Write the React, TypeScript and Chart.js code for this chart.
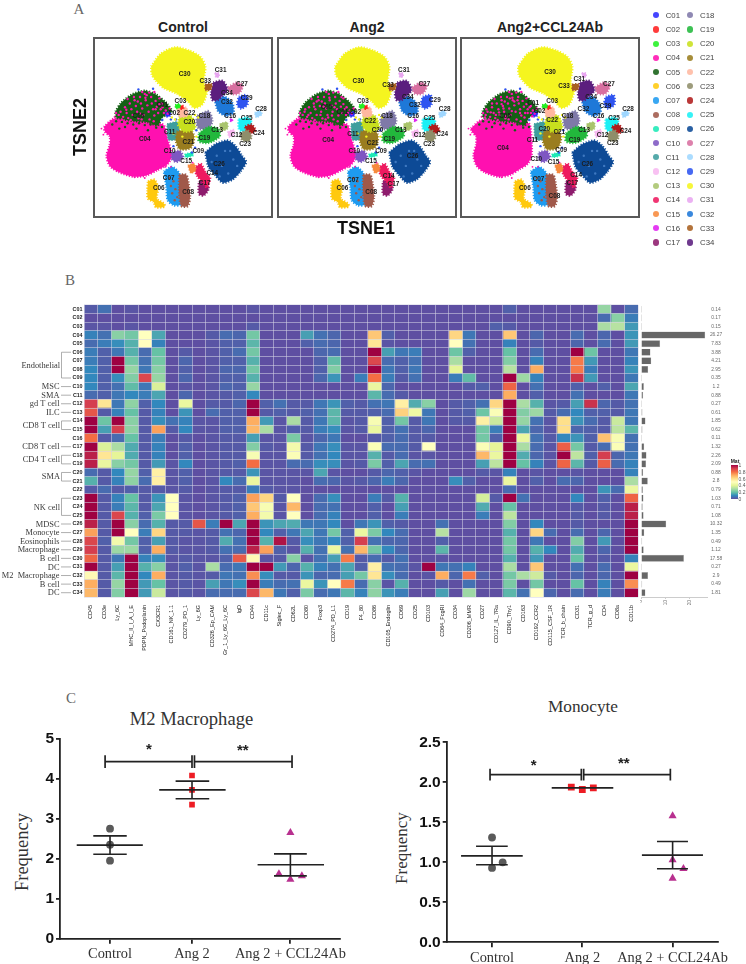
import React, { useEffect, useRef } from 'react';
import { Chart, registerables } from 'chart.js';
Chart.register(...registerables);

const SANS = '"Liberation Sans", Arial, sans-serif';
const SERIF = '"Liberation Serif", serif';

/* ---------- Panel A data ---------- */
const clusterNames = ['C01','C02','C03','C04','C05','C06','C07','C08','C09','C10','C11','C12','C13','C14','C15','C16','C17','C18','C19','C20','C21','C22','C23','C24','C25','C26','C27','C28','C29','C30','C31','C32','C33','C34'];
const clusterColors = ['#2B2BFF','#FF2020','#22F022','#FF10B0','#156015','#FFC90E','#1E9BF0','#A0594A','#1DE9B6','#7E57C2','#3E9E9E','#F7B8F0','#A9C46C','#EE1A60','#F78A3C','#E020F0','#8E1C6D','#7F79A8','#22B83C','#C8E01E','#9A7D1F','#FFB8A0','#8F8E6A','#B01C1C','#1BF0F5','#0D4A96','#D86FA0','#9FD7FF','#2E54F0','#F5F51F','#E8A6F0','#1E78D8','#A86020','#5B1E7E'];

const outlineC01 = [[215,225],[228,222],[230,235],[218,238]];
const outlineC02 = [[260,204],[270,202],[272,212],[262,214]];
const outlineC03 = [[245,200],[258,197],[262,208],[248,212]];
const outlineC04 = [[22,270],[50,245],[90,242],[140,250],[180,255],[210,265],[222,310],[235,360],[220,388],[190,405],[155,422],[115,426],[70,412],[40,392],[30,360],[40,325],[40,300],[25,285]];
const outlineC04Ab = [[22,275],[50,250],[90,245],[140,250],[180,250],[205,260],[212,310],[212,360],[200,385],[175,402],[145,420],[110,426],[65,412],[40,392],[30,360],[38,325],[38,300],[25,285]];
const outlineC05 = [[58,222],[75,195],[110,168],[150,156],[185,168],[215,192],[235,222],[205,240],[190,265],[160,255],[120,252],[80,245],[60,240]];
const outlineC06 = [[160,440],[180,435],[192,460],[188,495],[210,510],[212,520],[185,522],[178,505],[160,495],[158,470]];
const outlineC07 = [[210,410],[235,395],[258,415],[258,450],[265,490],[260,515],[240,515],[222,500],[218,460]];
const outlineC08 = [[258,420],[280,420],[288,450],[292,490],[285,518],[265,518],[258,480]];
const outlineC09 = [[275,355],[300,350],[302,360],[278,365]];
const outlineC10 = [[235,350],[260,345],[270,365],[250,380],[235,370]];
const outlineC11 = [[220,260],[255,255],[255,305],[225,310]];
const outlineC12 = [[410,285],[430,278],[430,295],[415,302]];
const outlineC13 = [[385,260],[408,255],[410,275],[390,282]];
const outlineC14 = [[305,400],[325,385],[340,410],[355,430],[345,460],[330,440],[315,425]];
const outlineC15 = [[285,390],[305,385],[310,405],[295,415]];
const outlineC16 = [[418,245],[425,245],[425,252],[418,252]];
const outlineC17 = [[320,440],[345,440],[350,465],[335,485],[320,480]];
const outlineC18 = [[315,235],[350,220],[362,250],[350,275],[320,275],[312,255]];
const outlineC19 = [[320,290],[350,270],[380,275],[385,300],[350,320],[320,315]];
const outlineC20 = [[260,235],[295,235],[308,275],[275,285],[255,265]];
const outlineC21 = [[250,285],[290,275],[305,300],[295,335],[260,340],[248,315]];
const outlineC22 = [[250,210],[280,208],[285,235],[260,238]];
const outlineC23 = [[450,290],[472,280],[485,300],[475,315],[455,310]];
const outlineC24 = [[465,268],[485,262],[498,280],[485,290],[470,285]];
const outlineC25 = [[445,245],[475,240],[485,258],[460,285],[445,275]];
const outlineC26 = [[340,350],[370,325],[410,312],[435,330],[455,360],[468,380],[450,410],[425,435],[395,445],[370,420],[350,395]];
const outlineC27 = [[412,145],[440,130],[458,140],[445,165],[420,165]];
const outlineC28 = [[495,225],[512,218],[518,230],[500,240]];
const outlineC29 = [[445,175],[470,170],[472,200],[452,212],[440,200]];
const outlineC30 = [[170,80],[200,40],[245,20],[290,30],[325,50],[340,80],[335,130],[345,160],[330,200],[305,210],[285,190],[250,165],[210,148],[185,125],[172,105]];
const outlineC31 = [[370,100],[382,100],[383,112],[373,114]];
const outlineC32 = [[370,185],[400,175],[425,195],[428,225],[405,235],[380,220]];
const outlineC33 = [[340,135],[360,135],[358,152],[340,155]];
const outlineC34 = [[365,130],[395,125],[410,155],[390,175],[380,185],[362,185],[358,160]];
const outlines = [outlineC01,outlineC02,outlineC03,outlineC04,outlineC05,outlineC06,outlineC07,outlineC08,outlineC09,outlineC10,outlineC11,outlineC12,outlineC13,outlineC14,outlineC15,outlineC16,outlineC17,outlineC18,outlineC19,outlineC20,outlineC21,outlineC22,outlineC23,outlineC24,outlineC25,outlineC26,outlineC27,outlineC28,outlineC29,outlineC30,outlineC31,outlineC32,outlineC33,outlineC34];
/* order in which the clusters overlap, back to front */
const overlapOrder = [29,3,4,25,5,6,7,16,13,14,9,8,10,17,18,20,19,21,31,33,26,28,32,24,23,22,27,12,11,30,15,0,1,2];

const controlLabels = [[205,202],[242,228],[262,190],[150,308],[130,237],[194,462],[225,432],[286,476],[318,347],[228,345],[228,286],[438,296],[377,279],[362,416],[280,377],[418,237],[338,445],[337,235],[337,305],[290,255],[287,318],[290,228],[465,323],[508,291],[470,242],[383,387],[455,136],[515,215],[470,181],[275,105],[388,93],[408,191],[340,127],[408,165]];
const ang2Labels = [[193,223],[233,223],[257,190],[148,311],[143,208],[193,463],[226,437],[283,474],[314,347],[230,345],[226,292],[435,296],[376,280],[338,423],[282,377],[415,237],[353,450],[333,235],[340,307],[303,279],[288,320],[280,251],[465,323],[506,292],[466,242],[413,361],[450,136],[514,214],[483,186],[243,127],[386,92],[420,201],[336,138],[398,175]];
const ablabels = [[217,195],[237,222],[277,190],[122,337],[129,236],[191,462],[234,435],[284,488],[305,344],[227,372],[215,313],[435,295],[377,280],[352,420],[281,381],[422,237],[340,447],[325,236],[347,313],[252,276],[299,287],[277,248],[467,321],[507,282],[471,241],[387,387],[455,135],[515,213],[444,206],[270,97],[362,119],[375,215],[314,143],[399,175]];

const pinkSpecks = [[68,232],[74,222],[82,238],[88,208],[93,226],[98,242],[103,196],[108,214],[112,232],[118,186],[122,204],[126,222],[130,243],[135,176],[138,196],[142,212],[146,232],[150,166],[153,186],[158,202],[162,222],[165,246],[170,176],[172,196],[176,214],[180,234],[184,188],[188,206],[192,226],[196,198],[200,214],[206,208],[210,226],[216,218],[178,252],[140,246],[106,248],[78,246],[152,178],[128,190],[164,162],[142,160],[196,180],[116,176],[222,228],[228,212],[60,226],[96,182],[180,160]];
const greenSpecks = [[60,252],[78,254],[96,258],[114,262],[132,258],[150,264],[168,262],[186,272],[204,270],[88,270],[124,275],[160,280],[48,262],[70,275]];
const brownSpecks = [[240,440],[246,465],[236,478],[252,490],[228,430],[244,500],[232,455]];
const paleBlueSpecks = [[376,360],[402,345],[428,372],[392,392],[412,416],[360,380],[440,392],[418,345],[385,425]];
const strayYellowSpecks = [[308,232],[318,240],[300,248],[245,246],[268,300],[235,240],[312,300],[240,290]];
const strayBlueSpecks = [[205,248],[232,246],[248,246],[308,335],[312,280],[240,330],[130,152],[298,350],[176,150]];
const strayPinkSpecks = [[14,275],[20,294],[300,382],[232,395],[55,238],[118,428],[215,395],[150,430]];

/* ---------- Panel B data ---------- */
const markerNames = ['CD45','CD3e','Ly_6C','MHC_II_I_A_I_E','PDPN_Podoplanin','CX3CR1','CD161_NK_1.1','CD279_PD_1','Ly_6G','CD326_Ep_CAM','Gr_1_Ly_6G_Ly_6C','IgD','CD44','CD11c','Siglec_F','CD62L','CD80','Foxp3','CD274_PD_L1','CD19','F4_80','CD86','CD105_Endoglin','CD69','CD25','CD103','CD64_FcgRI','CD34','CD206_MMR','CD27','CD127_IL_7Ra','CD90_Thy1','CD163','CD192_CCR2','CD115_CSF_1R','TCR_b_chain','CD31','TCR_g_d','CD4','CD8a','CD11b'];
const heatValues = [
[2,6,0,1,0,0,0,0,0,0,0,0,1,0,0,0, 0,0,0,0,0,0,0,0,0,0,0,0,0,0,0,3,0,0,0,0,0,0,27,0,5],
[0,0,0,0,0,0,0,0,0,0,0,0,0,0,0,0, 0,0,0,0,0,0,0,0,0,0,0,0,0,0,0,0,0,0,0,0,0,0,5,25,8],
[1,1,0,1,0,0,0,0,0,0,0,0,2,0,0,0, 0,0,0,0,0,0,0,0,0,0,0,0,0,0,3,2,0,0,0,0,0,0,30,32,13],
[9,6,25,22,50,15,0,0,0,2,5,4,22,0,0,0, 14,6,4,0,0,65,3,0,0,0,0,62,7,0,0,65,0,4,0,0,5,0,4,0,12],
[5,8,11,17,50,9,0,0,0,1,3,3,18,0,0,0, 3,5,4,0,0,58,1,0,0,0,0,50,6,0,0,9,0,2,0,0,4,0,5,0,13],
[8,3,7,17,5,20,0,2,0,1,3,5,22,0,0,0, 0,4,5,0,0,100,14,7,8,0,0,21,3,0,0,20,0,5,0,0,100,21,0,0,7],
[8,3,100,22,6,22,0,4,0,1,3,3,17,0,0,0, 0,3,19,0,0,88,5,3,6,0,0,30,0,0,0,24,0,9,0,0,78,13,0,0,9],
[10,3,100,27,7,25,0,3,0,1,4,4,22,0,0,0, 0,3,24,0,0,100,7,3,7,0,0,40,0,0,0,32,0,70,0,0,78,8,0,0,12],
[10,3,11,24,88,27,0,4,0,1,3,3,17,0,0,0, 0,4,12,0,8,80,8,2,6,0,0,8,19,0,0,100,28,9,0,0,92,13,0,0,7],
[10,3,6,19,7,38,0,1,0,1,4,3,27,0,0,0, 0,0,0,0,0,42,4,0,0,0,0,0,2,3,0,82,0,6,0,0,3,0,3,0,15],
[5,3,7,10,8,15,0,4,0,1,2,3,10,0,0,0, 0,0,0,0,0,18,5,2,0,0,0,0,0,0,0,70,0,3,0,0,6,0,0,0,7],
[90,58,7,26,3,10,0,42,0,2,2,4,100,3,6,2, 2,7,12,3,2,6,7,55,16,25,0,2,3,6,62,100,30,17,1,2,14,92,4,2,6],
[85,2,9,20,2,9,0,12,0,5,3,3,100,2,3,2, 3,6,18,2,2,3,5,63,43,7,0,2,3,21,48,100,24,28,2,5,10,3,3,2,7],
[100,21,100,25,2,11,6,9,1,1,3,3,70,13,1,30, 2,7,18,1,2,47,3,22,2,7,0,2,2,55,35,100,27,6,1,60,12,5,2,35,7],
[100,14,90,26,2,72,2,10,1,1,3,3,68,30,1,3, 2,8,11,1,2,42,3,6,2,4,0,0,0,22,8,100,15,4,1,60,4,3,2,33,18],
[80,2,5,20,2,8,0,2,0,1,2,2,14,1,1,23, 1,4,7,0,0,2,3,5,2,2,0,0,0,22,3,100,42,6,2,10,12,3,66,47,6],
[100,38,30,16,2,9,0,3,0,1,2,2,24,2,1,45, 2,7,11,1,1,48,5,5,2,50,0,0,0,48,40,100,30,5,1,83,22,2,5,48,6],
[95,58,40,16,2,9,0,3,0,1,2,2,47,1,1,48, 2,6,10,1,1,17,2,5,1,1,0,0,0,68,42,100,16,4,1,100,33,3,90,4,7],
[95,42,25,22,2,13,1,10,0,1,2,3,80,1,1,5, 5,11,11,1,2,23,3,15,5,6,0,0,0,14,33,100,20,9,1,82,18,2,83,5,9],
[5,2,10,27,3,55,1,3,0,1,2,2,12,1,1,1, 1,15,1,0,0,2,4,3,1,0,0,0,0,2,1,9,0,1,0,0,1,0,0,0,9],
[17,2,9,26,5,55,1,3,0,1,10,5,42,1,1,1, 0,5,4,1,2,4,8,4,0,0,0,11,3,0,0,42,0,3,0,5,4,0,0,0,30],
[2,5,2,3,2,2,1,2,0,1,2,2,8,2,1,1, 0,0,0,0,0,0,0,0,0,0,0,0,0,0,0,5,0,0,0,0,0,0,12,5,42],
[100,2,9,20,2,12,50,1,0,1,2,3,72,62,2,50, 0,5,11,0,0,8,2,17,0,0,0,0,0,37,2,100,6,0,0,0,10,0,3,0,82],
[100,2,8,18,2,15,50,1,0,1,2,3,65,47,1,68, 0,5,6,0,0,3,0,14,0,0,0,0,0,16,0,20,0,0,0,0,2,0,2,0,95],
[100,2,88,17,3,23,50,1,0,1,2,3,70,45,1,50, 0,5,9,0,0,3,0,8,0,0,0,0,0,8,0,33,0,0,0,0,2,0,2,0,95],
[95,2,100,25,5,17,2,2,85,8,100,15,100,12,15,16, 7,7,10,0,7,12,3,2,0,0,6,0,0,0,0,24,0,10,0,0,2,0,0,0,100],
[72,2,100,50,8,62,2,2,1,2,6,4,100,10,3,7, 15,7,22,3,42,23,10,5,0,0,32,0,0,0,0,17,0,62,5,0,5,0,4,0,100],
[88,3,45,22,3,14,2,1,1,2,16,6,100,17,97,2, 11,7,10,3,90,6,4,4,0,0,3,0,0,0,0,22,0,7,0,0,24,0,13,0,100],
[90,2,28,28,3,70,2,1,1,2,6,5,95,72,3,1, 17,6,42,6,68,22,10,4,0,0,18,0,0,0,0,22,0,17,10,0,16,0,4,0,100],
[82,2,7,100,9,11,1,2,1,1,3,84,52,1,2,25, 1,6,14,78,2,5,2,6,0,0,1,0,0,0,0,17,0,13,0,0,20,0,2,0,9],
[100,2,14,100,17,25,1,3,1,30,5,7,100,100,13,4, 17,9,6,15,3,55,6,5,1,100,7,6,9,0,0,30,0,65,0,0,6,0,5,0,42],
[52,2,18,100,10,70,1,2,1,2,7,6,75,11,2,2, 12,4,5,14,22,58,11,5,0,1,70,4,78,3,0,22,30,36,2,0,4,0,4,0,100],
[70,2,27,100,13,20,1,2,1,14,7,11,100,8,5,6, 42,12,50,78,5,25,1,17,0,0,2,0,6,0,0,23,0,22,0,0,20,0,9,0,75],
[68,2,24,100,13,35,1,2,1,5,5,5,88,68,7,3, 23,5,7,18,9,26,12,8,0,0,14,0,28,0,0,18,6,50,4,0,5,0,8,0,100],
];
const clusterPercent = [0.14,0.17,0.15,26.27,7.83,3.88,4.21,2.95,0.35,1.2,0.88,0.27,0.61,1.85,0.62,0.11,1.32,2.26,2.09,0.88,2.8,0.79,1.03,0.71,1.08,10.32,1.35,0.49,1.12,17.58,0.27,2.9,0.49,1.81];
const percentTicks = [0,10,20];
const cellTypeNotes: [string, number, number][] = [['Endothelial',5,8],['MSC',9,9],['SMA',10,10],['gd T cell',11,11],['ILC',12,12],['CD8 T cell',13,14],['CD8 T cell',16,16],['CD4 T cell',17,18],['SMA',19,20],['NK cell',22,24],['MDSC',25,25],['Monocyte',26,26],['Eosinophils',27,27],['Macrophage',28,28],['B cell',29,29],['DC',30,30],['M2  Macrophage',31,31],['B cell',32,32],['DC',33,33]];
const spectralStops = ['#5E4FA2','#3288BD','#66C2A5','#ABDDA4','#E6F598','#FFFFBF','#FEE08B','#FDAE61','#F46D43','#D53E4F','#9E0142'];

/* ---------- Panel C data ---------- */
const groupNames = ['Control','Ang 2','Ang 2 + CCL24Ab'];
const m2Center = [1,2,3.2];
const m2ControlX = [1,1,1]; const m2ControlY = [2.75,2.35,1.95];
const m2AngX = [2,2,2]; const m2AngY = [4.08,3.72,3.35];
const m2AbX = [3.2,3.06,3.2,3.34]; const m2AbY = [2.65,1.62,1.48,1.57];
const m2Mean = [2.34,3.72,1.85]; const m2Upper = [2.57,3.94,2.12]; const m2Lower = [2.11,3.5,1.57];
const m2MeanSpan = [[0.594,1.40],[1.60,2.41],[2.80,3.61]];
const m2CapSpan = [[0.796,1.204],[1.80,2.21],[3.0,3.40]];
const m2Brackets = [[0.94,2.0],[2.03,3.22]];
const m2Stars: [number, number, string][] = [[1.476,4.72,'*'],[2.62,4.7,'**']];

const monoCenter = [1,2,3];
const monoControlX = [1,1.118,1]; const monoControlY = [1.31,1.0,0.93];
const monoAngX = [1.878,2,2.122]; const monoAngY = [1.94,1.91,1.93];
const monoAbX = [3,3,3.12,3]; const monoAbY = [1.58,1.03,0.92,0.8];
const monoMean = [1.08,1.93,1.09]; const monoUpper = [1.2,1.94,1.26]; const monoLower = [0.97,1.92,0.92];
const monoMeanSpan = [[0.657,1.34],[1.661,2.343],[2.66,3.336]];
const monoCapSpan = [[0.823,1.174],[2,2],[2.827,3.17]];
const monoBrackets = [[0.978,1.989],[2.015,2.975]];
const monoStars: [number, number, string][] = [[1.46,2.21,'*'],[2.46,2.23,'**']];

/* ---------- helpers ---------- */
function spectral(v: number) {
  const t = Math.max(0, Math.min(1, v / 100)) * (spectralStops.length - 1);
  const i = Math.min(Math.floor(t), spectralStops.length - 2);
  const f = t - i;
  const p = (h: string) => [1, 3, 5].map(k => parseInt(h.slice(k, k + 2), 16));
  const a = p(spectralStops[i]), b = p(spectralStops[i + 1]);
  return `rgb(${a.map((c, k) => Math.round(c + (b[k] - c) * f)).join(',')})`;
}

function ChartBox({ left, top, width, height, config }: any) {
  const ref = useRef<HTMLCanvasElement>(null);
  useEffect(() => {
    const chart = new Chart(ref.current as HTMLCanvasElement, config());
    return () => chart.destroy();
  }, []);
  return <canvas ref={ref} width={width} height={height} style={{ position: 'absolute', left, top, width, height }} />;
}

function Txt({ x, y, rotate = 0, style, children }: any) {
  return <div style={{ position: 'absolute', left: x, top: y, transform: `translate(-50%,-50%) rotate(${rotate}deg)`, whiteSpace: 'pre', lineHeight: 1, ...style }}>{children}</div>;
}

const toPts = (xs: number[], ys: number[]) => xs.map((x, i) => ({ x, y: ys[i] }));
const pairPts = (a: number[][]) => a.map(([x, y]) => ({ x, y }));

function specks(list: number[][], color: string, r = 1.2) {
  return { type: 'scatter', data: pairPts(list), backgroundColor: color, borderWidth: 0, pointRadius: r, showLine: false };
}

function tsneConfig(labels: number[][], extraPink: number[][], c04Outline: number[][]) {
  return () => {
    const polys = overlapOrder.map(i => {
      const shape = i === 3 ? c04Outline : outlines[i];
      return {
        type: 'scatter',
        data: pairPts([...shape, shape[0]]),
        showLine: true,
        fill: 'shape',
        clip: false,
        tension: 0.25,
        backgroundColor: clusterColors[i],
        borderColor: clusterColors[i],
        borderWidth: shape.length > 4 ? 2.4 : 1.4,
        borderDash: [1.2, 1.6],
        pointRadius: 0,
      };
    });
    return {
      type: 'scatter',
      data: {
        datasets: [
          specks(pinkSpecks, '#FF10B0'),
          specks(extraPink, '#FF10B0'),
          specks(greenSpecks, '#156015'),
          specks(brownSpecks, '#A0594A'),
          specks(paleBlueSpecks, '#3E78C0'),
          specks(strayYellowSpecks, '#F5F51F'),
          specks(strayBlueSpecks, '#2E54F0'),
          specks(strayPinkSpecks, '#FF10B0', 0.9),
          ...polys.reverse(),
        ],
      },
      options: {
        responsive: false, animation: false,
        layout: { padding: 0 },
        plugins: { legend: { display: false }, tooltip: { enabled: false } },
        scales: {
          x: { type: 'linear', min: 0, max: 540, display: false },
          y: { type: 'linear', min: 0, max: 543, reverse: true, display: false },
        },
      },
      plugins: [{
        id: 'clusterLabels',
        afterDatasetsDraw(chart: any) {
          const { ctx, scales } = chart;
          ctx.save();
          ctx.font = `bold 6.4px ${SANS}`;
          ctx.textAlign = 'center';
          ctx.textBaseline = 'middle';
          ctx.fillStyle = '#1c1c1c';
          labels.forEach((p, i) => ctx.fillText(clusterNames[i], scales.x.getPixelForValue(p[0]), scales.y.getPixelForValue(p[1])));
          ctx.restore();
        },
      }],
    };
  };
}

const extraPinkControl = [[70,250],[120,258],[156,170],[92,216],[136,228],[184,214],[204,196]];
const extraPinkAng2 = [[76,214],[104,206],[134,206],[168,208],[204,232],[148,240],[112,190],[190,176],[86,232],[124,232],[160,234]];
const extraPinkAb = [[70,214],[88,196],[110,224],[124,212],[158,190],[176,226],[200,226],[66,240],[144,180],[190,240],[214,236],[132,236],[100,232],[150,220],[84,224],[118,198],[168,186],[210,204]];

function heatConfig() {
  const rows = clusterNames;
  const PAD_TOP = 15, AXIS_H = 63, AXIS_W = 84;
  return {
    type: 'bar',
    data: {
      labels: rows,
      datasets: markerNames.map((name, c) => ({
        label: name,
        data: rows.map(() => 1),
        backgroundColor: rows.map((_, r) => spectral(heatValues[r][c])),
        borderWidth: 0,
        barPercentage: 1,
        categoryPercentage: 1,
        xAxisID: 'x',
        yAxisID: 'y',
      })),
    },
    options: {
      indexAxis: 'y', responsive: false, animation: false,
      layout: { padding: { left: 0, right: 2, top: PAD_TOP, bottom: 0 } },
      plugins: { legend: { display: false }, tooltip: { enabled: false } },
      scales: {
        x: {
          type: 'linear', stacked: true, min: 0, max: 41, position: 'bottom',
          ticks: { display: false, stepSize: 1, autoSkip: false },
          grid: { z: 1, color: 'rgba(214,214,230,0.55)', lineWidth: 1, drawTicks: false },
          border: { display: false },
          afterFit(s: any) { s.height = 0; s.paddingLeft = 0; s.paddingRight = 0; },
        },
        xc: {
          type: 'category', labels: markerNames, position: 'bottom', offset: true,
          grid: { display: false }, border: { display: false },
          ticks: { autoSkip: false, minRotation: 90, maxRotation: 90, padding: 0, color: '#222', font: { family: SANS, size: 5.5 } },
          afterFit(s: any) { s.height = AXIS_H; s.paddingLeft = 0; s.paddingRight = 0; },
        },
        y: {
          type: 'category', stacked: true, offset: true,
          grid: { z: 1, offset: true, color: 'rgba(214,214,230,0.55)', lineWidth: 1, drawTicks: false },
          border: { display: false },
          ticks: { autoSkip: false, padding: 1.5, color: '#1c1c1c', font: { family: SANS, size: 5.4, weight: 'bold' } },
          afterFit(s: any) { s.width = AXIS_W; s.paddingTop = 0; s.paddingBottom = 0; },
        },
      },
    },
    plugins: [{
      id: 'cellTypeNotes',
      afterDraw(chart: any) {
        const { ctx, scales: { y } } = chart;
        ctx.save();
        ctx.font = `8.4px ${SERIF}`;
        ctx.textBaseline = 'middle';
        ctx.textAlign = 'right';
        cellTypeNotes.forEach(([name, a, b]) => {
          const ya = y.getPixelForValue(a), yb = y.getPixelForValue(b);
          ctx.fillStyle = '#3a3a3a';
          ctx.fillText(name, a === b ? 59.5 : 60, (ya + yb) / 2 + 0.5);
          ctx.strokeStyle = '#8c8c8c';
          ctx.lineWidth = 0.7;
          ctx.beginPath();
          if (a === b) {
            ctx.moveTo(61, ya); ctx.lineTo(71, ya);
          } else {
            ctx.moveTo(71, ya); ctx.lineTo(61.5, ya); ctx.lineTo(61.5, yb); ctx.lineTo(71, yb);
          }
          ctx.stroke();
        });
        ctx.restore();
      },
    }],
  };
}

function barConfig() {
  return {
    type: 'bar',
    data: {
      labels: clusterNames,
      datasets: [{ data: clusterPercent, backgroundColor: '#676767', borderColor: '#b5b5b5', borderWidth: 0.4, barPercentage: 0.82, categoryPercentage: 1, minBarLength: 1 }],
    },
    options: {
      indexAxis: 'y', responsive: false, animation: false,
      layout: { padding: { left: 1, right: 39, top: 15, bottom: 0 } },
      plugins: { legend: { display: false }, tooltip: { enabled: false } },
      scales: {
        x: {
          type: 'linear', min: 0, max: 27,
          afterBuildTicks(s: any) { s.ticks = percentTicks.map(v => ({ value: v })); },
          ticks: { autoSkip: false, minRotation: 90, maxRotation: 90, padding: 1, color: '#777', font: { family: SANS, size: 4.8 } },
          grid: { drawOnChartArea: false, tickLength: 2, color: '#ccc' },
          border: { display: true, color: '#ccc' },
          afterFit(s: any) { s.height = 63; s.paddingLeft = 0; s.paddingRight = 0; },
        },
        y: { type: 'category', display: false, offset: true },
      },
    },
    plugins: [{
      id: 'percentLabels',
      afterDraw(chart: any) {
        const { ctx, scales: { y } } = chart;
        ctx.save();
        ctx.font = `4.9px ${SANS}`;
        ctx.textAlign = 'center';
        ctx.textBaseline = 'middle';
        ctx.fillStyle = '#6a6a6a';
        clusterPercent.forEach((v, i) => ctx.fillText(String(v), 76, y.getPixelForValue(i)));
        ctx.restore();
      },
    }],
  };
}

function dotConfig(o: any) {
  const line = (pts: { x: number; y: number }[], w = 1.6) => ({ type: 'scatter', data: pts, showLine: true, borderColor: '#222', borderWidth: w, pointRadius: 0, backgroundColor: '#222' });
  return () => {
    const lines: any[] = [];
    o.mean.forEach((m: number, i: number) => {
      lines.push(line([{ x: o.meanSpan[i][0], y: m }, { x: o.meanSpan[i][1], y: m }]));
      if (o.capSpan[i][0] !== o.capSpan[i][1]) {
        lines.push(line([{ x: o.capSpan[i][0], y: o.upper[i] }, { x: o.capSpan[i][1], y: o.upper[i] }]));
        lines.push(line([{ x: o.capSpan[i][0], y: o.lower[i] }, { x: o.capSpan[i][1], y: o.lower[i] }]));
        lines.push(line([{ x: o.center[i], y: o.upper[i] }, { x: o.center[i], y: o.lower[i] }]));
      }
    });
    o.brackets.forEach(([a, b]: number[]) => {
      lines.push(line([{ x: a, y: o.bracketY }, { x: b, y: o.bracketY }], 1.7));
      lines.push(line([{ x: a, y: o.bracketY - o.bracketTick }, { x: a, y: o.bracketY + o.bracketTick }], 1.7));
      lines.push(line([{ x: b, y: o.bracketY - o.bracketTick }, { x: b, y: o.bracketY + o.bracketTick }], 1.7));
    });
    const base = { type: 'scatter', showLine: false, borderWidth: 0 };
    return {
      type: 'scatter',
      data: {
        datasets: [
          ...lines,
          { ...base, data: o.controlPts, backgroundColor: '#5a5a5a', pointStyle: 'circle', pointRadius: 3.9 },
          { ...base, data: o.angPts, backgroundColor: '#ED1C24', pointStyle: 'rect', pointRadius: o.rectR },
          { ...base, data: o.abPts, backgroundColor: '#B8308F', pointStyle: 'triangle', pointRadius: 4.7 },
        ],
      },
      options: {
        responsive: false, animation: false,
        layout: { padding: { left: 0, right: o.padRight, top: o.padTop, bottom: 0 } },
        plugins: { legend: { display: false }, tooltip: { enabled: false } },
        scales: {
          x: {
            type: 'linear', min: o.xMin, max: o.xMax,
            afterBuildTicks(s: any) { s.ticks = o.center.map((v: number) => ({ value: v })); },
            ticks: {
              autoSkip: false, maxRotation: 0, minRotation: 0, padding: 2, color: '#333',
              font: { family: SERIF, size: 14.4 },
              callback: (v: number) => groupNames[o.center.indexOf(v)],
            },
            grid: { drawOnChartArea: false, tickLength: 5, color: '#222', lineWidth: 1.8 },
            border: { display: true, color: '#222', width: 1.8 },
            afterFit(s: any) { s.height = o.axisH; s.paddingLeft = 0; s.paddingRight = 0; },
          },
          y: {
            type: 'linear', min: 0, max: o.yMax,
            ticks: { stepSize: o.yStep, padding: 2, color: '#111', font: { family: SANS, size: 15.5, weight: 'bold' }, callback: o.yFmt },
            grid: { drawOnChartArea: false, tickLength: 4, color: '#222', lineWidth: 1.8 },
            border: { display: true, color: '#222', width: 1.8 },
            afterFit(s: any) { s.width = o.axisW; s.paddingTop = 0; s.paddingBottom = 0; },
          },
        },
      },
      plugins: [{
        id: 'significance',
        afterDraw(chart: any) {
          const { ctx, scales } = chart;
          ctx.save();
          ctx.font = `bold 15px ${SANS}`;
          ctx.textAlign = 'center';
          ctx.textBaseline = 'middle';
          ctx.fillStyle = '#222';
          o.stars.forEach(([x, y, t]: [number, number, string]) => ctx.fillText(t, scales.x.getPixelForValue(x), scales.y.getPixelForValue(y)));
          ctx.restore();
        },
      }],
    };
  };
}

const m2Config = dotConfig({
  center: m2Center, mean: m2Mean, upper: m2Upper, lower: m2Lower, meanSpan: m2MeanSpan, capSpan: m2CapSpan,
  brackets: m2Brackets, bracketY: 4.425, bracketTick: 0.16, stars: m2Stars, rectR: 4,
  controlPts: toPts(m2ControlX, m2ControlY), angPts: toPts(m2AngX, m2AngY), abPts: toPts(m2AbX, m2AbY),
  xMin: 0.39, xMax: 3.805, yMax: 5, yStep: 1, yFmt: (v: number) => String(v),
  padRight: 20, padTop: 38.7, axisH: 25.3, axisW: 60,
});
const monoConfig = dotConfig({
  center: monoCenter, mean: monoMean, upper: monoUpper, lower: monoLower, meanSpan: monoMeanSpan, capSpan: monoCapSpan,
  brackets: monoBrackets, bracketY: 2.096, bracketTick: 0.073, stars: monoStars, rectR: 4.8,
  controlPts: toPts(monoControlX, monoControlY), angPts: toPts(monoAngX, monoAngY), abPts: toPts(monoAbX, monoAbY),
  xMin: 0.498, xMax: 3.506, yMax: 2.5, yStep: 0.5, yFmt: (v: number) => v.toFixed(1),
  padRight: 27.7, padTop: 42.3, axisH: 21.7, axisW: 76.7,
});

const panelBoxes = [
  { left: 93, title: 'Control', labels: controlLabels, extra: extraPinkControl, c04: outlineC04 },
  { left: 277, title: 'Ang2', labels: ang2Labels, extra: extraPinkAng2, c04: outlineC04 },
  { left: 460, title: 'Ang2+CCL24Ab', labels: ablabels, extra: extraPinkAb, c04: outlineC04Ab },
];
const colorbarTicks = ['1', '0.8', '0.6', '0.4', '0.2', '0'];

export default function App() {
  const panelLetter = { fontFamily: SERIF, fontSize: 15, color: '#666' };
  const freq = { fontFamily: SERIF, color: '#333' };
  return (
    <div style={{ position: 'absolute', left: 0, top: 0, width: 746, height: 964, background: '#fff', overflow: 'hidden' }}>
      <Txt x={79} y={9} style={panelLetter}>A</Txt>
      <Txt x={70} y={280} style={panelLetter}>B</Txt>
      <Txt x={71} y={698} style={panelLetter}>C</Txt>

      {panelBoxes.map(p => (
        <React.Fragment key={p.title}>
          <Txt x={p.left + 90} y={27} style={{ fontFamily: SANS, fontWeight: 'bold', fontSize: 14, color: '#222' }}>{p.title}</Txt>
          <ChartBox left={p.left} top={37} width={180} height={181} config={tsneConfig(p.labels, p.extra, p.c04)} />
          <div style={{ position: 'absolute', left: p.left, top: 37, width: 180, height: 181, boxSizing: 'border-box', border: '2px solid #595959' }} />
        </React.Fragment>
      ))}
      <Txt x={366} y={228} style={{ fontFamily: SANS, fontWeight: 'bold', fontSize: 18, color: '#111' }}>TSNE1</Txt>
      <Txt x={80} y={127} rotate={-90} style={{ fontFamily: SANS, fontWeight: 'bold', fontSize: 18, color: '#111' }}>TSNE2</Txt>

      {clusterNames.map((n, i) => {
        const col = i < 17 ? 0 : 1;
        const row = i % 17;
        const y = 15.3 + row * 14.2;
        return (
          <React.Fragment key={n}>
            <div style={{ position: 'absolute', left: (col ? 690 : 655.7) - 3.1, top: y - 3.1, width: 6.2, height: 6.2, borderRadius: '50%', background: clusterColors[i], opacity: 0.88 }} />
            <div style={{ position: 'absolute', left: col ? 700 : 665.7, top: y - 4.5, fontFamily: SANS, fontSize: 7.8, lineHeight: '9px', color: '#444' }}>{n}</div>
          </React.Fragment>
        );
      })}

      <ChartBox left={0} top={290} width={640} height={370} config={heatConfig} />
      <ChartBox left={640} top={290} width={106} height={370} config={barConfig} />

      <Txt x={735} y={461} style={{ fontFamily: SANS, fontWeight: 'bold', fontSize: 5, color: '#222' }}>Mat</Txt>
      <div style={{ position: 'absolute', left: 730.5, top: 465, width: 7, height: 34, background: `linear-gradient(to top, ${spectralStops.join(',')})` }} />
      {colorbarTicks.map((t, i) => (
        <div key={t} style={{ position: 'absolute', left: 738.5, top: 465 + i * 6.8 - 3, fontFamily: SANS, fontSize: 5, lineHeight: '6px', color: '#555' }}>{t}</div>
      ))}

      <Txt x={191.5} y={719} style={{ ...freq, fontSize: 18.6 }}>M2 Macrophage</Txt>
      <Txt x={22} y={851.5} rotate={-90} style={{ ...freq, fontSize: 18.5 }}>Frequency</Txt>
      <ChartBox left={0} top={700} width={360} height={264} config={m2Config} />

      <Txt x={583} y={706.5} style={{ ...freq, fontSize: 17.3 }}>Monocyte</Txt>
      <Txt x={400.7} y={847.5} rotate={-90} style={{ ...freq, fontSize: 17 }}>Frequency</Txt>
      <ChartBox left={370} top={700} width={376} height={264} config={monoConfig} />
    </div>
  );
}
